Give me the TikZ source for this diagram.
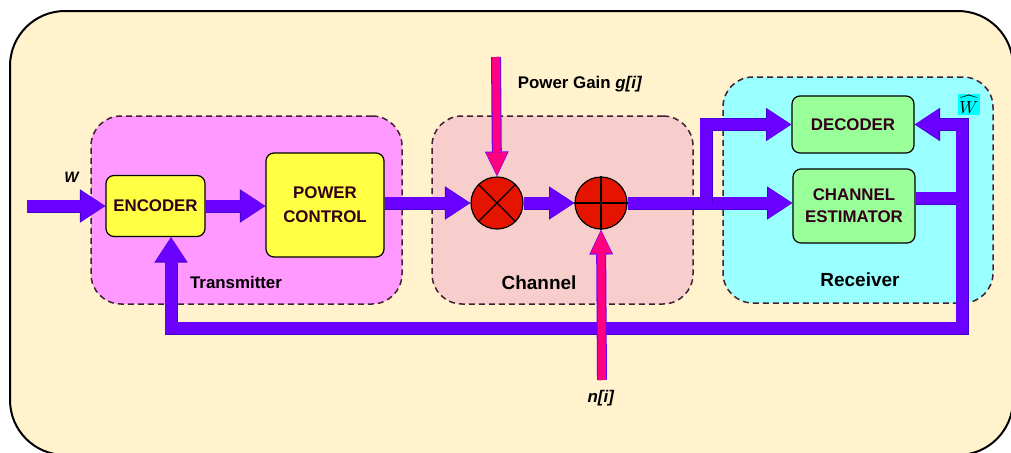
\documentclass[tikz,border=0pt]{standalone}
\usepackage{fontspec}
\setmainfont{Liberation Sans}
\usetikzlibrary{arrows.meta}
\newdimen\pxu \pxu=0.02cm
\definecolor{outerc}{HTML}{FFF2CC}
\definecolor{txc}{HTML}{FF99FF}
\definecolor{chc}{HTML}{F8CECC}
\definecolor{rxc}{HTML}{99FFFF}
\definecolor{dashc}{HTML}{402035}
\definecolor{yelc}{HTML}{FFFF44}
\definecolor{grnc}{HTML}{99FF99}
\definecolor{redc}{HTML}{E51400}
\definecolor{vio}{HTML}{6A00FF}
\definecolor{vioD}{HTML}{4400CC}
\definecolor{pnk}{HTML}{FF0080}
\definecolor{txtc}{HTML}{33001A}
\definecolor{cyanc}{HTML}{00FFFF}
\begin{document}
\begin{tikzpicture}[x=0.02cm,y=-0.02cm,
  region/.style={draw=dashc, dashed, dash pattern=on 6\pxu off 4\pxu, line width=1.5\pxu, rounded corners=30\pxu, rectangle, inner sep=0pt},
  blk/.style={draw=black, line width=1.2\pxu, rounded corners=8\pxu, rectangle, align=center, text=txtc, inner sep=0pt,
     font=\fontsize{9.6}{12.5}\selectfont\bfseries},
  ybox/.style={blk, fill=yelc},
  gbox/.style={blk, fill=grnc},
  opc/.style={circle, draw=black, line width=1.2\pxu, fill=redc, minimum size=52\pxu, inner sep=0pt},
  lbl/.style={font=\fontsize{9.6}{11}\selectfont\bfseries, text=black, inner sep=0pt},
  biglbl/.style={lbl, font=\fontsize{10.8}{12}\selectfont\bfseries},
  parr/.style={preaction={draw=vioD, line width=7.4pt, shorten >=0pt, -{Triangle[length=14.46pt,width=19pt,line width=0pt]}},
     draw=vio, line width=6.3pt, shorten >=0.45pt, -{Triangle[length=13.33pt,width=17.58pt,line width=0pt]}},
  pkarr/.style={preaction={draw=vio, line width=5.67pt, shorten >=0pt, -{Triangle[length=14.2pt,width=13.6pt,line width=0pt]}},
     draw=pnk, line width=4.5pt, shorten >=0.6pt, -{Triangle[length=13pt,width=12.2pt,line width=0pt]}}
]
\useasboundingbox (0,0) rectangle (1011,453);
% outer frame
\path[draw=black, fill=outerc, line width=2\pxu, rounded corners=55\pxu] (10,11) rectangle (1013,455);
% regions
\node[region, fill=txc, minimum width=311\pxu, minimum height=188\pxu] (tx) at (246.5,210) {};
\node[region, fill=chc, minimum width=261\pxu, minimum height=188\pxu] (ch) at (562.5,210) {};
\node[region, fill=rxc, minimum width=270\pxu, minimum height=226\pxu] (rx) at (858,190) {};
\node[lbl] (txl) at (236,282) {Transmitter};
\node[biglbl] (chl) at (539,283) {Channel};
\node[biglbl] (rxl) at (860,280) {Receiver};
% blocks
\node[ybox, minimum width=99\pxu, minimum height=61\pxu] (enc) at (155.5,206) {ENCODER};
\node[ybox, minimum width=118\pxu, minimum height=104\pxu, font=\fontsize{9.6}{13.6}\selectfont\bfseries] (pc) at (325,205) {POWER\\CONTROL};
\node[opc] (mul) at (497,203) {};
\node[opc] (add) at (601,203) {};
\draw[line width=1.3\pxu] (mul.north west) -- (mul.south east) (mul.north east) -- (mul.south west);
\draw[line width=1.3\pxu] (add.north) -- (add.south) (add.west) -- (add.east);
\node[gbox, minimum width=122\pxu, minimum height=57\pxu] (dec) at (853,124.5) {DECODER};
\node[gbox, minimum width=122\pxu, minimum height=74\pxu, font=\fontsize{9.6}{12.6}\selectfont\bfseries] (est) at (854,206) {CHANNEL\\ESTIMATOR};
% coordinates
\coordinate (win) at (27,206);
\coordinate (split) at (706,203);
\coordinate (c1) at (962,328);
\coordinate (c2) at (171,328);
\coordinate (pg) at (496,57);
\coordinate (ni) at (602,380);
% purple connectors
\draw[parr] (win) -- (enc.west);
\draw[parr] (enc.east) -- (pc.west |- enc.east);
\draw[parr] (pc.east |- mul) -- (mul.west);
\draw[parr] (mul.east) -- (add.west);
\draw[parr] (add.east) -- (split) -- (est.west |- split);
\draw[parr] (split) |- (dec.west);
\draw[parr] ([yshift=8\pxu]est.east) -| (c1) -- (c2) -- (enc.south -| c2);
\draw[parr] (c1) |- (dec.east);
% pink connectors
\draw[pkarr] (pg) -- (mul.north);
\draw[pkarr] (ni) -- (add.south);
% labels
\node[lbl] (pgl) at (580,84) {Power Gain \textit{g[i]}};
\node[lbl] (nil) at (601,398) {\textit{n[i]}};
\node[lbl, font=\fontsize{8.6}{10}\selectfont\bfseries] (wl) at (72,177) {\textit{W}};
\node[fill=cyanc, inner sep=0.8\pxu, minimum width=22\pxu, minimum height=21\pxu, font=\fontsize{10}{11}\selectfont] (what) at (969,104.5) {$\widehat{W}$};
\end{tikzpicture}
\end{document}
